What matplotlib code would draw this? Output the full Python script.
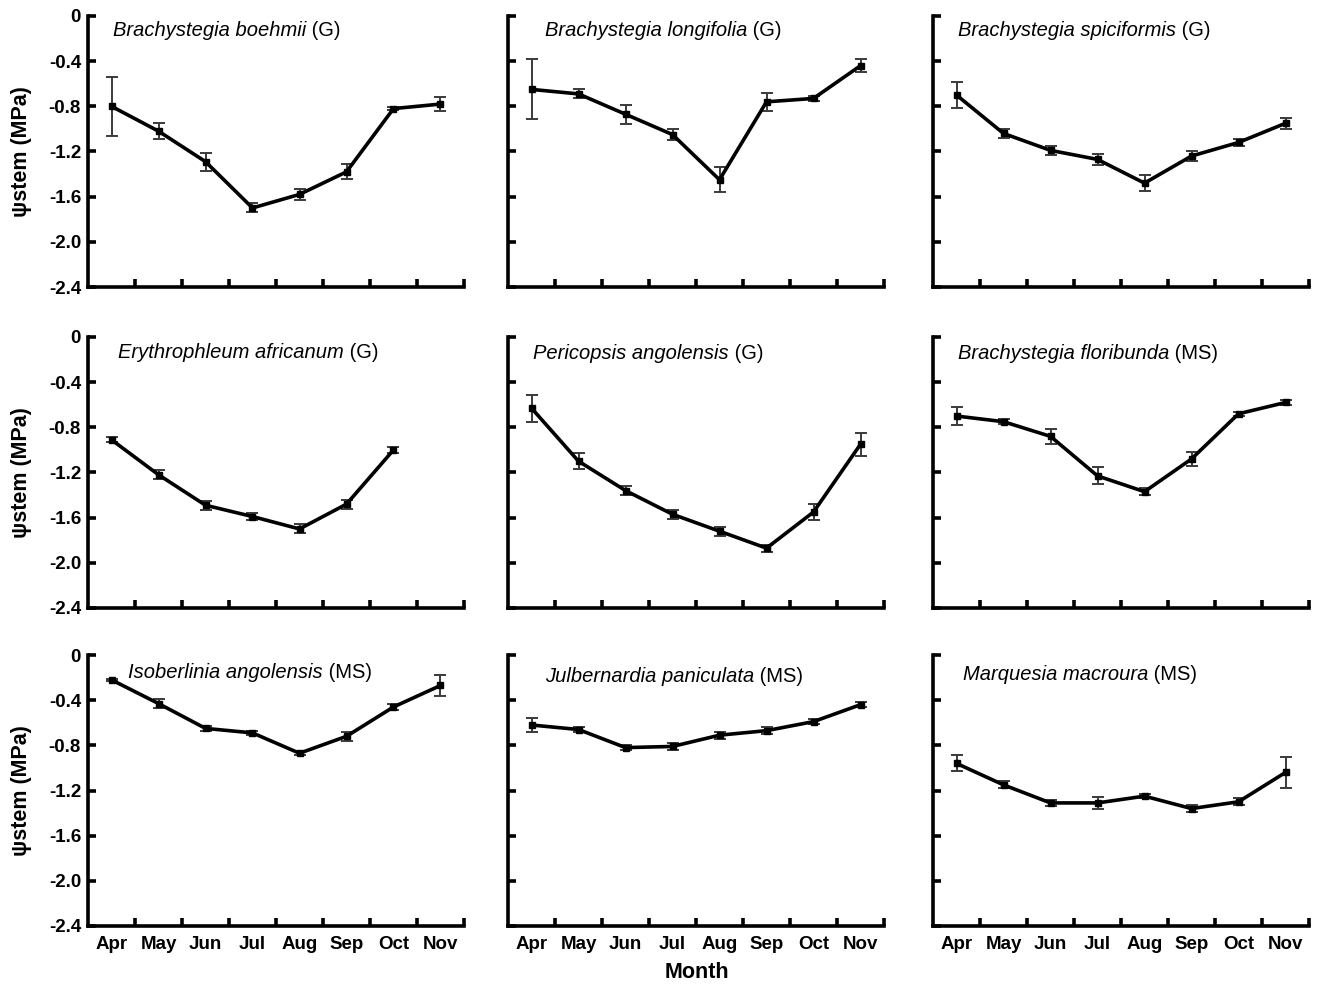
import numpy as np
import matplotlib
matplotlib.use("Agg")
import matplotlib.pyplot as plt

plt.rcParams['font.family'] = ['Liberation Sans', 'DejaVu Sans']

months = ['Apr', 'May', 'Jun', 'Jul', 'Aug', 'Sep', 'Oct', 'Nov']
y_ticks = [-2.4, -2.0, -1.6, -1.2, -0.8, -0.4, 0.0]
y_tick_labels = ['-2.4', '-2.0', '-1.6', '-1.2', '-0.8', '-0.4', '0']

species = ['Brachystegia boehmii', 'Brachystegia longifolia', 'Brachystegia spiciformis',
           'Erythrophleum africanum', 'Pericopsis angolensis', 'Brachystegia floribunda',
           'Isoberlinia angolensis', 'Julbernardia paniculata', 'Marquesia macroura']
groups = ['G', 'G', 'G', 'G', 'G', 'MS', 'MS', 'MS', 'MS']

b_boehmii_mean = [-0.80, -1.02, -1.29, -1.70, -1.58, -1.38, -0.82, -0.78]
b_boehmii_se = [0.26, 0.07, 0.08, 0.04, 0.05, 0.065, 0.01, 0.06]

b_longifolia_mean = [-0.65, -0.69, -0.87, -1.05, -1.45, -0.76, -0.73, -0.44]
b_longifolia_se = [0.265, 0.04, 0.085, 0.05, 0.11, 0.08, 0.02, 0.06]

b_spiciformis_mean = [-0.70, -1.04, -1.19, -1.27, -1.48, -1.24, -1.12, -0.95]
b_spiciformis_se = [0.115, 0.04, 0.04, 0.05, 0.07, 0.045, 0.03, 0.05]

e_africanum_mean = [-0.91, -1.22, -1.49, -1.59, -1.70, -1.48, -1.00, np.nan]
e_africanum_se = [0.02, 0.04, 0.04, 0.03, 0.04, 0.04, 0.03, np.nan]

p_angolensis_mean = [-0.63, -1.10, -1.36, -1.57, -1.72, -1.87, -1.55, -0.95]
p_angolensis_se = [0.12, 0.07, 0.04, 0.04, 0.04, 0.03, 0.07, 0.10]

b_floribunda_mean = [-0.70, -0.75, -0.88, -1.23, -1.37, -1.08, -0.68, -0.58]
b_floribunda_se = [0.08, 0.02, 0.065, 0.075, 0.03, 0.06, 0.02, 0.02]

i_angolensis_mean = [-0.22, -0.43, -0.65, -0.69, -0.87, -0.72, -0.46, -0.27]
i_angolensis_se = [0.01, 0.04, 0.02, 0.02, 0.02, 0.04, 0.03, 0.095]

j_paniculata_mean = [-0.62, -0.66, -0.82, -0.81, -0.71, -0.67, -0.59, -0.44]
j_paniculata_se = [0.06, 0.02, 0.02, 0.03, 0.03, 0.03, 0.02, 0.02]

m_macroura_mean = [-0.96, -1.15, -1.31, -1.31, -1.25, -1.36, -1.30, -1.04]
m_macroura_se = [0.07, 0.03, 0.03, 0.05, 0.02, 0.03, 0.03, 0.14]

means = [b_boehmii_mean, b_longifolia_mean, b_spiciformis_mean,
         e_africanum_mean, p_angolensis_mean, b_floribunda_mean,
         i_angolensis_mean, j_paniculata_mean, m_macroura_mean]
ses = [b_boehmii_se, b_longifolia_se, b_spiciformis_se,
       e_africanum_se, p_angolensis_se, b_floribunda_se,
       i_angolensis_se, j_paniculata_se, m_macroura_se]

W, H = 1317, 986
fig = plt.figure(figsize=(W / 100, H / 100), dpi=100)

col_left = [88, 508, 933]
row_top = [16, 337, 655]
aw, ah = 376, 271
title_dx = [25, 37, 25, 30, 25, 25, 40, 37, 30]
title_dy = [15, 15, 15, 16, 17, 17, 18, 21, 19]

x = np.arange(len(months))
for i in range(9):
    r, c = divmod(i, 3)
    l, t = col_left[c], row_top[r]
    ax = fig.add_axes([l / W, 1 - (t + ah) / H, aw / W, ah / H])
    ax.errorbar(x, means[i], yerr=ses[i], fmt='none', ecolor='#3a3a3a',
                elinewidth=1.4, capsize=4, capthick=1.4, zorder=2)
    ax.plot(x, means[i], '-', color='black', lw=2.6, marker='s', ms=4.5,
            mfc='black', mec='black', zorder=3)
    ax.set_xlim(-0.5, 7.5)
    ax.set_ylim(-2.4, 0)
    for s in ['top', 'right']:
        ax.spines[s].set_visible(False)
    for s in ['left', 'bottom']:
        ax.spines[s].set_linewidth(2.6)
    ax.set_xticks(np.arange(0.5, 7.6, 1.0))
    ax.set_xticklabels([])
    ax.set_xticks(x, minor=True)
    ax.tick_params(axis='x', which='major', direction='in', length=6, width=2.6)
    ax.tick_params(axis='x', which='minor', length=0, pad=7)
    ax.set_yticks(y_ticks)
    ax.tick_params(axis='y', which='major', direction='in', length=6, width=2.6, pad=5)
    if c == 0:
        ax.set_yticklabels(y_tick_labels, fontsize=13.5, fontweight='bold')
        ax.set_ylabel('ψstem (MPa)', fontsize=15.5, fontweight='bold')
        ax.yaxis.set_label_coords(-0.148, 0.5)
    else:
        ax.set_yticklabels([])
    if r == 2:
        ax.set_xticklabels(months, minor=True, fontsize=13.5, fontweight='bold')
    txt = ax.text(title_dx[i] / aw, 1 - title_dy[i] / ah, species[i], style='italic',
                  fontsize=14.5, transform=ax.transAxes, ha='left', va='center')
    ax.annotate(' (' + groups[i] + ')', xy=(1, 0), xycoords=txt, ha='left', va='bottom',
                fontsize=14.5)

fig.text(697 / W, 1 - 972 / H, 'Month', ha='center', va='center', fontsize=15.5,
         fontweight='bold')

fig.savefig('out.png', dpi=100)
